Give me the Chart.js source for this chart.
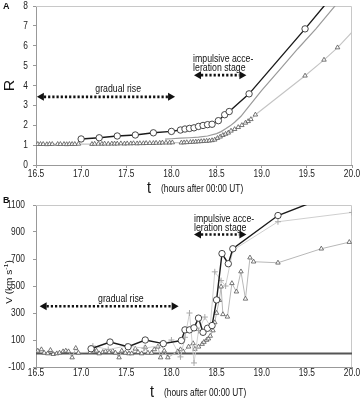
<!DOCTYPE html>
<html><head><meta charset="utf-8">
<script src="https://cdn.jsdelivr.net/npm/chart.js@4.4.0/dist/chart.umd.min.js"></script>
<style>
html,body{margin:0;padding:0;background:#fff;}
#wrap{position:relative;width:362px;height:400px;}
canvas{position:absolute;left:0;}
#cA{top:0;} #cB{top:195px;}
</style></head><body>
<div id="wrap"><canvas id="cA" width="362" height="195"></canvas><canvas id="cB" width="362" height="205"></canvas></div>
<script>
// ---------- DATA ----------
const xTicks = [16.5, 17.0, 17.5, 18.0, 18.5, 19.0, 19.5, 20.0];
const yTicksA = [0, 1, 2, 3, 4, 5, 6, 7, 8];
const yTicksB = [-100, 100, 300, 500, 700, 900, 1100];

// Panel A: circles (black)
const aCircT = [17.00,17.20,17.40,17.60,17.80,18.00,18.10,18.15,18.20,18.25,18.30,18.35,18.40,18.45,18.52,18.59,18.64,18.86,19.48,19.70];
const aCircR = [1.31,1.37,1.46,1.51,1.62,1.69,1.76,1.81,1.84,1.87,1.94,1.99,2.03,2.05,2.23,2.53,2.69,3.58,6.85,8.05];
const aCircMarked = 19;
// Panel A: middle gray curve
const aMidT = [17.93,18.00,18.10,18.20,18.30,18.40,18.50,18.55,18.60,18.65,18.70,18.77,18.84,19.00,19.20,19.40,19.60,19.82];
const aMidR = [1.30,1.32,1.35,1.37,1.40,1.46,1.58,1.68,1.82,1.97,2.15,2.45,2.85,3.75,4.80,5.85,6.85,8.05];
// Panel A: triangles (light gray)
const aTriT = [16.52,16.55,16.58,16.62,16.65,16.68,16.74,16.77,16.81,16.84,16.87,16.90,16.93,16.97,
  17.12,17.15,17.19,17.23,17.26,17.30,17.34,17.37,17.40,17.44,17.48,17.51,17.55,17.58,17.62,17.65,17.69,17.72,17.76,17.80,17.83,17.87,17.90,17.94,17.98,18.01,
  18.11,18.14,18.17,18.21,18.24,18.27,18.30,18.33,18.36,18.39,18.42,18.45,18.48,18.51,18.54,18.57,18.60,18.63,18.66,18.70,18.74,18.78,18.82,18.85,18.88,18.93,
  19.48,19.69,19.84,20.00];
const aTriR = [1.05,1.05,1.05,1.04,1.05,1.05,1.05,1.05,1.05,1.04,1.05,1.05,1.05,1.06,
  1.05,1.06,1.06,1.06,1.07,1.06,1.07,1.07,1.07,1.08,1.07,1.08,1.08,1.09,1.08,1.09,1.09,1.10,1.10,1.10,1.11,1.11,1.12,1.12,1.12,1.13,
  1.12,1.13,1.14,1.15,1.16,1.17,1.18,1.19,1.20,1.21,1.22,1.24,1.27,1.35,1.42,1.50,1.56,1.62,1.72,1.80,1.90,2.00,2.12,2.20,2.30,2.53,
  4.49,5.29,5.91,6.68];
const aTriMarked = 69;

// Panel B: circles (black)
const bCircT = [17.11,17.32,17.52,17.71,17.91,18.11,18.15,18.20,18.25,18.30,18.35,18.40,18.45,18.50,18.56,18.63,18.68,19.18,19.52];
const bCircV = [35,85,50,100,73,96,175,175,190,262,157,187,207,397,740,665,776,1022,1110];
const bCircMarked = 18;
// Panel B: gray "+" series
const bPlusT = [17.13,17.30,17.50,17.70,17.90,18.00,18.10,18.15,18.20,18.25,18.30,18.37,18.43,18.48,18.55,18.60,18.68,19.18,20.00];
const bPlusV = [55,30,55,40,60,100,-25,120,300,-70,170,270,200,605,540,500,765,976,1045];
// Panel B: triangles
const bTriT = [16.52,16.56,16.59,16.63,16.66,16.69,16.73,16.76,16.80,16.83,16.86,16.90,16.94,16.97,
  17.10,17.13,17.17,17.20,17.24,17.27,17.31,17.35,17.38,17.42,17.45,17.49,17.53,17.56,17.60,17.63,17.67,17.71,17.74,17.78,17.81,17.85,17.88,17.92,17.96,
  18.07,18.10,18.13,18.19,18.24,18.26,18.30,18.34,18.36,18.39,18.41,18.43,18.46,18.48,18.50,18.53,18.55,18.57,18.62,18.67,18.72,18.77,18.82,18.87,18.91,
  19.18,19.66,19.97];
const bTriV = [20,30,5,0,25,-5,0,5,15,20,15,-30,40,5,
  10,30,20,0,10,15,10,20,5,-30,20,5,0,0,35,10,0,45,5,5,30,50,-30,20,-30,
  15,30,15,50,75,33,50,70,85,100,110,130,170,230,300,395,495,290,272,520,458,607,405,710,680,
  672,776,825];

// ---------- HELPERS ----------
const pts = (xs, ys) => xs.map((x, i) => ({x: x, y: ys[i]}));
const FONT = "'Liberation Sans', Arial, sans-serif";
const SQ = 0.76; // horizontal text condensation seen in the reference

function textC(ctx, str, x, y, align, size, sx) {
  ctx.save();
  ctx.translate(x, y);
  ctx.scale(sx === undefined ? SQ : sx, 1);
  ctx.font = size + 'px ' + FONT;
  ctx.textAlign = align; ctx.textBaseline = 'middle';
  ctx.fillText(str, 0, 0);
  ctx.restore();
}

function drawArrow(ctx, x1, x2, y) {
  const hl = 7, hh = 4;
  ctx.save();
  ctx.strokeStyle = '#111'; ctx.fillStyle = '#111';
  ctx.lineWidth = 2.6; ctx.setLineDash([2.2, 2]);
  ctx.beginPath(); ctx.moveTo(x1 + hl, y); ctx.lineTo(x2 - hl, y); ctx.stroke();
  ctx.setLineDash([]);
  ctx.beginPath(); ctx.moveTo(x1, y); ctx.lineTo(x1 + hl, y - hh); ctx.lineTo(x1 + hl, y + hh); ctx.closePath(); ctx.fill();
  ctx.beginPath(); ctx.moveTo(x2, y); ctx.lineTo(x2 - hl, y - hh); ctx.lineTo(x2 - hl, y + hh); ctx.closePath(); ctx.fill();
  ctx.restore();
}

function makePlugin(cfg) {
  return {
    id: 'deco' + cfg.letter,
    beforeDatasetsDraw(chart) {
      const {ctx, chartArea: a} = chart;
      ctx.save();
      ctx.strokeStyle = '#c8c8c8'; ctx.lineWidth = 1;
      ctx.beginPath(); ctx.moveTo(a.left, a.top + 0.5); ctx.lineTo(a.right - 0.5, a.top + 0.5); ctx.lineTo(a.right - 0.5, a.bottom); ctx.stroke();
      ctx.restore();
    },
    afterDraw(chart) {
      const {ctx, chartArea: a, scales: {x, y}} = chart;
      ctx.save();
      ctx.fillStyle = '#222';
      // tick labels (condensed like the reference)
      x.ticks.forEach(t => textC(ctx, Number(t.value).toFixed(1), x.getPixelForValue(t.value), a.bottom + cfg.xLabDy, 'center', 11));
      y.ticks.forEach(t => textC(ctx, String(t.value), cfg.yLabRight, y.getPixelForValue(t.value), 'right', 11));
      ctx.fillStyle = '#111';
      // panel letter
      ctx.font = 'bold 9px ' + FONT; ctx.textAlign = 'left'; ctx.textBaseline = 'top';
      ctx.fillText(cfg.letter, 3, cfg.letterY);
      // y title
      ctx.save();
      ctx.translate(cfg.yTitleX, (a.top + a.bottom) / 2 + cfg.yTitleDy);
      ctx.rotate(-Math.PI / 2);
      ctx.scale(1, SQ + 0.1);
      ctx.textAlign = 'center'; ctx.textBaseline = 'middle';
      if (cfg.letter === 'A') {
        ctx.font = '16px ' + FONT; ctx.fillText('R', 0, 0);
      } else {
        ctx.font = '10px ' + FONT;
        const p1 = 'V (km s', p2 = '-1', p3 = ')';
        const w1 = ctx.measureText(p1).width, w3 = ctx.measureText(p3).width;
        ctx.font = '7px ' + FONT; const w2 = ctx.measureText(p2).width;
        let sx = -(w1 + w2 + w3) / 2;
        ctx.textAlign = 'left';
        ctx.font = '10px ' + FONT; ctx.fillText(p1, sx, 0);
        ctx.font = '7px ' + FONT; ctx.fillText(p2, sx + w1, -4);
        ctx.font = '10px ' + FONT; ctx.fillText(p3, sx + w1 + w2, 0);
      }
      ctx.restore();
      // x title
      textC(ctx, 't', cfg.tX, cfg.tY, 'left', 17, 0.85);
      textC(ctx, '(hours after 00:00 UT)', cfg.tX + 14, cfg.tY + 1, 'left', 11);
      // annotations
      const g = cfg.gradual, im = cfg.impulse;
      drawArrow(ctx, x.getPixelForValue(g.x1), x.getPixelForValue(g.x2), y.getPixelForValue(g.y));
      textC(ctx, 'gradual rise', x.getPixelForValue(g.tx), y.getPixelForValue(g.ty), 'center', 11.5);
      drawArrow(ctx, x.getPixelForValue(im.x1), x.getPixelForValue(im.x2), y.getPixelForValue(im.y));
      textC(ctx, 'impulsive acce-', x.getPixelForValue(im.tx), y.getPixelForValue(im.ty1), 'left', 11.5);
      textC(ctx, 'leration stage', x.getPixelForValue(im.tx), y.getPixelForValue(im.ty2), 'left', 11.5);
      ctx.restore();
    }
  };
}

function scales(yMin, yMax, yTicks, xHeight, xTickLen) {
  return {
    x: {
      type: 'linear', min: 16.5, max: 20.0,
      afterBuildTicks: s => { s.ticks = xTicks.map(v => ({value: v})); },
      afterFit: s => { s.height = xHeight; },
      border: {color: '#999', width: 1},
      grid: {drawOnChartArea: false, drawTicks: true, tickLength: xTickLen, color: '#999'},
      ticks: {display: false}
    },
    y: {
      type: 'linear', min: yMin, max: yMax,
      afterBuildTicks: s => { s.ticks = yTicks.map(v => ({value: v})); },
      afterFit: s => { s.width = 36; },
      border: {color: '#999', width: 1},
      grid: {drawOnChartArea: false, drawTicks: true, tickLength: 3, color: '#999'},
      ticks: {display: false}
    }
  };
}

const common = {
  responsive: false, animation: false, devicePixelRatio: 1,
  plugins: {legend: {display: false}, tooltip: {enabled: false}},
  elements: {line: {tension: 0}}
};

// ---------- CHART A ----------
new Chart(document.getElementById('cA'), {
  type: 'scatter',
  data: {datasets: [
    {data: pts(aCircT, aCircR), showLine: true, borderColor: '#1a1a1a', borderWidth: 1.4,
     pointStyle: 'circle', pointRadius: c => c.dataIndex < aCircMarked ? 3.2 : 0,
     pointBackgroundColor: '#fff', pointBorderColor: '#333', pointBorderWidth: 0.9},
    {data: pts(aMidT, aMidR), showLine: true, borderColor: '#9a9a9a', borderWidth: 1.2, pointRadius: 0},
    {data: pts(aTriT, aTriR), showLine: true, borderColor: '#c4c4c4', borderWidth: 1.1,
     pointStyle: 'triangle', pointRadius: c => c.dataIndex < aTriMarked ? 2.6 : 0,
     pointBackgroundColor: '#fff', pointBorderColor: '#555', pointBorderWidth: 0.8}
  ]},
  options: Object.assign({}, common, {
    layout: {padding: {left: 0, right: 10, top: 6, bottom: 0}},
    scales: scales(0, 8, yTicksA, 30, 3)
  }),
  plugins: [makePlugin({
    letter: 'A', letterY: 2, yTitleX: 10, yTitleDy: 0, tX: 147, tY: 188,
    xLabDy: 9, yLabRight: 28,
    gradual: {x1: 16.51, x2: 18.04, y: 3.43, tx: 17.41, ty: 3.85},
    impulse: {x1: 18.25, x2: 18.83, y: 4.52, tx: 18.24, ty1: 5.33, ty2: 4.9}
  })]
});

// ---------- CHART B ----------
new Chart(document.getElementById('cB'), {
  type: 'scatter',
  data: {datasets: [
    {data: pts(bCircT, bCircV), showLine: true, borderColor: '#1a1a1a', borderWidth: 1.4,
     pointStyle: 'circle', pointRadius: c => c.dataIndex < bCircMarked ? 3.2 : 0,
     pointBackgroundColor: '#fff', pointBorderColor: '#333', pointBorderWidth: 0.9},
    {data: pts(bPlusT, bPlusV), showLine: true, borderColor: '#cfcfcf', borderWidth: 1,
     pointStyle: 'cross', pointRadius: 3, pointBorderColor: '#aaa', pointBorderWidth: 1},
    {data: pts(bTriT, bTriV), showLine: true, borderColor: '#b8b8b8', borderWidth: 1,
     pointStyle: 'triangle', pointRadius: 2.6,
     pointBackgroundColor: '#fff', pointBorderColor: '#555', pointBorderWidth: 0.8},
    {data: [{x: 16.5, y: 0}, {x: 20.0, y: 0}], showLine: true, borderColor: '#555', borderWidth: 2.2, pointRadius: 0}
  ]},
  options: Object.assign({}, common, {
    layout: {padding: {left: 0, right: 10, top: 10, bottom: 0}},
    scales: scales(-100, 1100, yTicksB, 33, 2)
  }),
  plugins: [makePlugin({
    letter: 'B', letterY: 1, yTitleX: 10, yTitleDy: -4, tX: 150, tY: 197,
    xLabDy: 6, yLabRight: 25,
    gradual: {x1: 16.54, x2: 18.08, y: 350, tx: 17.44, ty: 405},
    impulse: {x1: 18.25, x2: 18.83, y: 882, tx: 18.25, ty1: 1000, ty2: 930}
  })]
});
</script>
</body></html>
